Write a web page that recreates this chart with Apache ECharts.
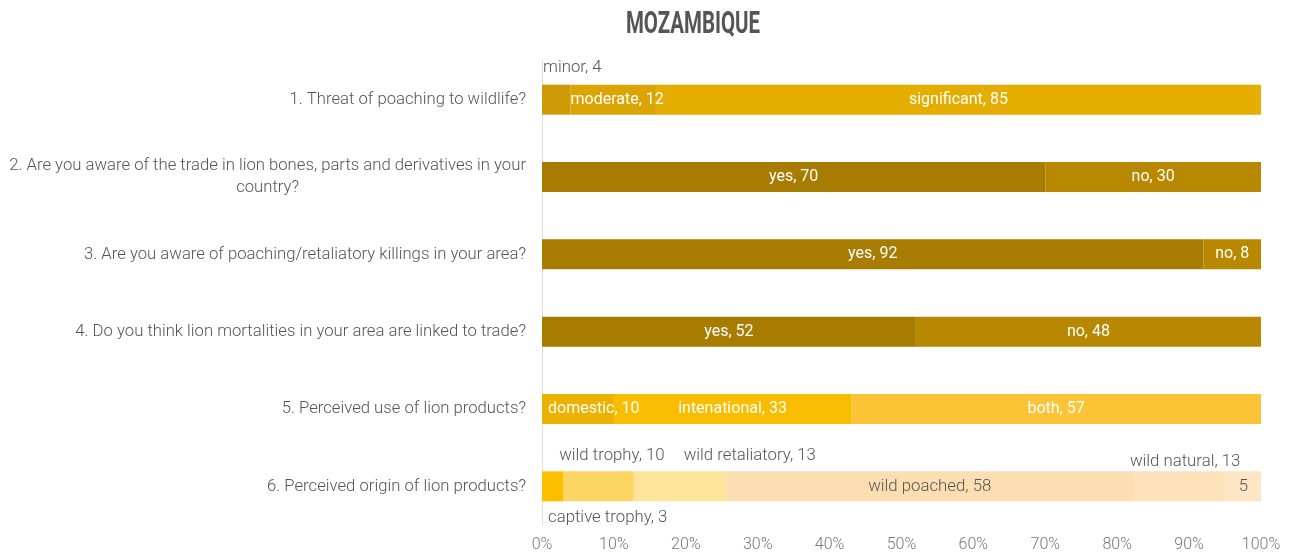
<!DOCTYPE html>
<html>
<head>
<meta charset="utf-8">
<script src="https://cdn.jsdelivr.net/npm/echarts@6/dist/echarts.min.js"></script>
<style>
  html, body { margin: 0; padding: 0; background: #fff; }
  #chart { width: 1290px; height: 554px; }
</style>
</head>
<body>
<div id="chart"></div>
<script>
// questions, top to bottom
const questions = [
  '1. Threat of poaching to wildlife?',
  '2. Are you aware of the trade in lion bones, parts and derivatives in your country?',
  '3. Are you aware of poaching/retaliatory killings in your area?',
  '4. Do you think lion mortalities in your area are linked to trade?',
  '5. Perceived use of lion products?',
  '6. Perceived origin of lion products?'
];

const threatNames = ['minor', 'moderate', 'significant'];
const threatValues = [4, 12, 85];
const tradeNames = ['yes', 'no'];
const tradeValues = [70, 30];
const killingNames = ['yes', 'no'];
const killingValues = [92, 8];
const linkedNames = ['yes', 'no'];
const linkedValues = [52, 48];
const useNames = ['domestic', 'intenational', 'both'];
const useValues = [10, 33, 57];
const originNames = ['captive trophy', 'wild trophy', 'wild retaliatory', 'wild poached', 'wild natural', 'other'];
const originValues = [3, 10, 13, 58, 13, 5];

const xTicks = [0, 10, 20, 30, 40, 50, 60, 70, 80, 90, 100];

// colours per segment
const colors = [
  ['#cc9a06', '#daa402', '#e5ad00'],
  ['#a87c00', '#b88800'],
  ['#a87c00', '#b88800'],
  ['#a87c00', '#b88800'],
  ['#edb100', '#f9bd00', '#fdc336'],
  ['#fbbf00', '#fdd565', '#fee39a', '#fddeb2', '#fde1b8', '#fee5c5']
];

// label placement per segment
const IN = { position: 'inside' };
const labelStyles = [
  [{ position: [1, -17], align: 'left', dark: true }, { position: 'insideLeft', distance: 0 }, IN],
  [IN, IN],
  [IN, IN],
  [IN, IN],
  [{ position: 'insideLeft', distance: 6 }, IN, IN],
  [
    { position: [6, 46], align: 'left', dark: true },
    { position: [-4, -16], align: 'left', dark: true },
    { position: [50, -16], align: 'left', dark: true },
    { position: 'inside', dark: true },
    { position: [51, -10], align: 'center', dark: true },
    { position: 'inside', dark: true, valueOnly: true }
  ]
];

const groups = [
  [threatNames, threatValues],
  [tradeNames, tradeValues],
  [killingNames, killingValues],
  [linkedNames, linkedValues],
  [useNames, useValues],
  [originNames, originValues]
];

const maxSeg = Math.max(...groups.map(g => g[1].length));
const series = [];
for (let k = 0; k < maxSeg; k++) {
  const data = groups.map((g, i) => {
    const names = g[0], vals = g[1];
    if (k >= vals.length) return '-';
    const sum = vals.reduce((a, b) => a + b, 0);
    const ls = labelStyles[i][k];
    const label = {
      show: true,
      position: ls.position,
      color: ls.dark ? '#555' : '#fff',
      fontWeight: ls.dark ? 300 : 'normal',
      fontSize: ls.dark ? 16.8 : 16,
      fontFamily: 'Roboto',
      verticalAlign: 'middle'
    };
    if (ls.align) label.align = ls.align;
    if (ls.distance !== undefined) label.distance = ls.distance;
    return {
      value: vals[k] / sum * 100,
      labelText: ls.valueOnly ? String(vals[k]) : names[k] + ', ' + vals[k],
      itemStyle: { color: colors[i][k] },
      label: label
    };
  });
  series.push({
    type: 'bar',
    stack: 'total',
    barWidth: 30,
    z: 10 - k,
    data: data,
    itemStyle: { borderWidth: 0 },
    label: { show: true, formatter: p => p.data.labelText },
    emphasis: { disabled: true },
    animation: false
  });
}

const chart = echarts.init(document.getElementById('chart'));
chart.setOption({
  animation: false,
  graphic: [{
    type: 'text',
    x: 693,
    y: 25,
    scaleX: 0.66,
    style: {
      text: 'MOZAMBIQUE',
      font: 'bold 31px Roboto',
      fill: '#555',
      align: 'center',
      verticalAlign: 'middle'
    }
  }],
  grid: { left: 542, right: 29, top: 61, bottom: 29, containLabel: false },
  xAxis: {
    type: 'value',
    min: xTicks[0],
    max: xTicks[xTicks.length - 1],
    interval: 10,
    axisLine: { show: false },
    axisTick: { show: false },
    splitLine: { show: false },
    axisLabel: {
      formatter: '{value}%',
      color: '#777',
      fontSize: 16,
      fontWeight: 300,
      fontFamily: 'Roboto',
      margin: 12
    }
  },
  yAxis: {
    type: 'category',
    inverse: true,
    data: questions,
    axisLine: { show: true, lineStyle: { color: '#ddd', width: 1 } },
    axisTick: { show: false },
    axisLabel: {
      color: '#555',
      fontSize: 16.7,
      fontWeight: 300,
      fontFamily: 'Roboto',
      margin: 16,
      lineHeight: 22,
      formatter: v => {
        if (v.length <= 75) return v;
        const cut = v.lastIndexOf(' ', 75);
        return '{c|' + v.slice(0, cut) + '}\n{c|' + v.slice(cut + 1) + '}';
      },
      rich: {
        c: { align: 'center', color: '#555', fontSize: 16.7, fontWeight: 300, fontFamily: 'Roboto', lineHeight: 22 }
      }
    }
  },
  series: series
});
</script>
</body>
</html>
